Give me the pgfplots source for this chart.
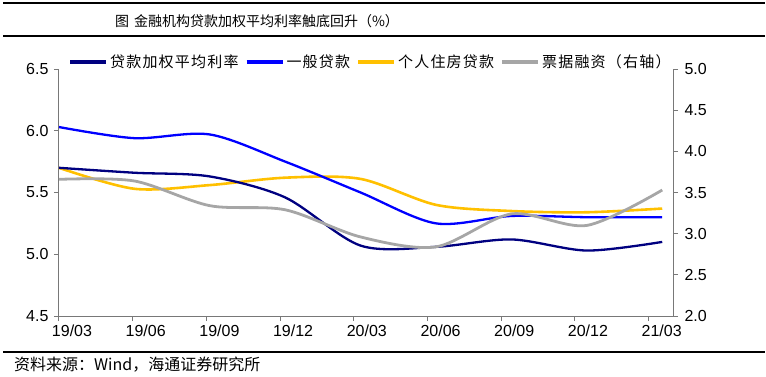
\documentclass[border=0pt]{standalone}
\usepackage{pgfplots}
\pgfplotsset{compat=1.18}
\usepackage{fontspec}
\setmainfont{Liberation Sans}
\newfontfamily\cjk{Noto Sans CJK SC}
\newfontfamily\cjkl[LetterSpace=8]{Noto Sans CJK SC}
\definecolor{cnavy}{RGB}{0,0,128}
\definecolor{cblue}{RGB}{0,0,255}
\definecolor{cgold}{RGB}{255,192,0}
\definecolor{cgray}{RGB}{166,166,166}
\definecolor{axgray}{RGB}{120,120,120}

\pgfplotstableread{
x navy blue gold
0 5.70 6.03 5.70
1 5.66 5.94 5.53
2 5.63 5.97 5.56
3 5.46 5.75 5.62
4 5.07 5.50 5.61
5 5.06 5.25 5.40
6 5.12 5.31 5.35
7 5.03 5.30 5.34
8 5.10 5.30 5.37
}\lefttab
\pgfplotstableread{
x gray
0 3.66
1 3.64
2 3.34
3 3.29
4 2.96
5 2.84
6 3.24
7 3.10
8 3.53
}\righttab

\begin{document}
\begin{tikzpicture}
\useasboundingbox (0pt,0pt) rectangle (766pt,376pt);

\pgfplotsset{
  common/.style={
    at={(59pt,60pt)}, anchor=south west,
    scale only axis, width=614pt, height=247pt,
    xmin=0, xmax=8.143,
    tick label style={font=\fontsize{16}{18}\selectfont},
    /pgf/number format/assume math mode=true,
    yticklabel style={/pgf/number format/fixed, /pgf/number format/fixed zerofill, /pgf/number format/precision=1},
    axis line style={axgray, line width=1pt},
    tick style={axgray, line width=1pt},
    tick align=outside,
    major tick length=5pt,
    clip=false,
  }
}

\begin{axis}[common,
  ymin=4.5, ymax=6.5, ytick={4.5,5,5.5,6,6.5},
  axis y line*=left, axis x line*=bottom,
  xtick={0,0.9775,1.955,2.9325,3.91,4.8875,5.865,6.8425,7.82},
  xticklabels={19/03,19/06,19/09,19/12,20/03,20/06,20/09,20/12,21/03},
  xticklabel style={xshift=13pt},
  yticklabel style={xshift=-2pt},
]
\addplot[cgold, line width=2.6pt, smooth] table[x=x,y=gold]{\lefttab};
\addplot[cblue, line width=2.3pt, smooth] table[x=x,y=blue]{\lefttab};
\addplot[cnavy, line width=2.3pt, smooth] table[x=x,y=navy]{\lefttab};
\end{axis}

\begin{axis}[common,
  ymin=2, ymax=5, ytick={2,2.5,3,3.5,4,4.5,5},
  axis y line*=right, axis x line=none,
  yticklabel style={xshift=3pt},
  legend style={at={(0.507,1.028)}, anchor=center, draw=none, fill=none,
    font=\cjkl\fontsize{15}{17}\selectfont,
    legend columns=4, /tikz/every even column/.append style={column sep=4pt},
    inner sep=0pt},
  legend image code/.code={\draw[#1, line width=4pt] (0pt,0pt) -- (36pt,0pt);},
  legend cell align=left,
]
\addlegendimage{cnavy}\addlegendentry{贷款加权平均利率}
\addlegendimage{cblue}\addlegendentry{一般贷款}
\addlegendimage{cgold}\addlegendentry{个人住房贷款}
\addplot[cgray, line width=2.8pt, smooth] table[x=x,y=gray]{\righttab};
\addlegendentry{票据融资（右轴）}
\end{axis}

\node[anchor=west, inner sep=0pt] at (3pt,373pt) {\rule{762pt}{1.6pt}};
\node[anchor=west, inner sep=0pt] at (3pt,340pt) {\rule{762pt}{1.6pt}};
\node[anchor=west, inner sep=0pt] at (3pt,24pt) {\rule{762pt}{1.6pt}};
\node[font=\cjk\fontsize{14}{16}\selectfont, anchor=center, inner sep=0pt] at (257pt,355pt) {图\hspace{5pt}金融机构贷款加权平均利率触底回升（\%）};
\node[font=\cjk\fontsize{16}{18}\selectfont, anchor=west, inner sep=0pt] at (14pt,11pt) {资料来源：Wind，海通证券研究所};
\end{tikzpicture}
\end{document}
